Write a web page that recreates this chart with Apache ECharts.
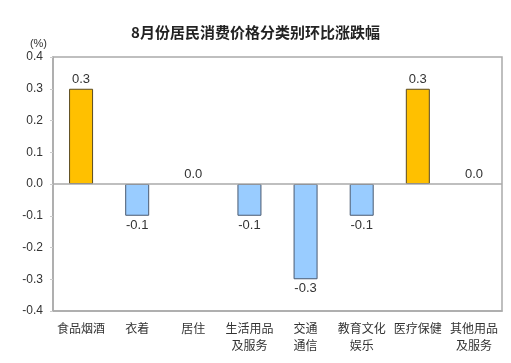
<!DOCTYPE html>
<html><head><meta charset="utf-8">
<script src="https://cdn.jsdelivr.net/npm/echarts@6/dist/echarts.min.js"></script>
<style>html,body{margin:0;padding:0;background:#fff}#c{width:511px;height:363px}</style>
</head><body><div id="c"></div>
<script>
const categories = ['食品烟酒','衣着','居住','生活用品\n及服务','交通\n通信','教育文化\n娱乐','医疗保健','其他用品\n及服务'];
const values = [0.3,-0.1,0.0,-0.1,-0.3,-0.1,0.3,0.0];
const yTicks = [-0.4,-0.3,-0.2,-0.1,0.0,0.1,0.2,0.3,0.4];
const chart = echarts.init(document.getElementById('c'));
chart.setOption({
  animation:false,
  title:{text:'8月份居民消费价格分类别环比涨跌幅',left:'center',top:20,
    textStyle:{fontSize:15,fontWeight:'bold',color:'#222',fontFamily:'Noto Sans CJK SC'}},
  grid:{left:53,right:9,top:57,bottom:52,show:true,borderColor:'#aaa',borderWidth:1.5},
  xAxis:{type:'category',data:categories,
    axisLine:{onZero:false,lineStyle:{color:'#aaa',width:1.5}},
    axisTick:{show:false},
    axisLabel:{color:'#333',fontSize:12,fontFamily:'Noto Sans CJK SC',margin:9,lineHeight:17,interval:0}},
  yAxis:{type:'value',min:-0.4,max:0.4,interval:0.1,
    axisLine:{show:true,lineStyle:{color:'#aaa',width:1.5}},
    axisTick:{show:true,length:3,lineStyle:{color:'#ccc'}},
    splitLine:{show:false},
    axisLabel:{color:'#333',fontSize:12,fontFamily:'Liberation Sans',margin:10,
      formatter:v=>{const i=yTicks.findIndex(t=>Math.abs(t-v)<1e-9);return i>=0?yTicks[i].toFixed(1):'';}},
    name:'(%)',nameLocation:'end',nameGap:8,
    nameTextStyle:{color:'#333',fontSize:11,fontFamily:'Liberation Sans',align:'right',padding:[0,6,0,0]}},
  series:[{type:'bar',barWidth:24,
    data:values.map(v=>({value:v,
      itemStyle:{color:v>0?'#FFC000':'#99CCFF',borderColor:v>0?'#5a4a20':'#4a5a70',borderWidth:v===0?0:1},
      label:{position:v<0?'bottom':'top'}})),
    label:{show:true,color:'#333',fontSize:13,fontFamily:'Liberation Sans',distance:3,
      formatter:p=>p.value.toFixed(1)},
    markLine:{silent:true,symbol:'none',label:{show:false},
      lineStyle:{color:'#aaa',width:1.5,type:'solid'},data:[{yAxis:0}]}
  }]
});
</script></body></html>
